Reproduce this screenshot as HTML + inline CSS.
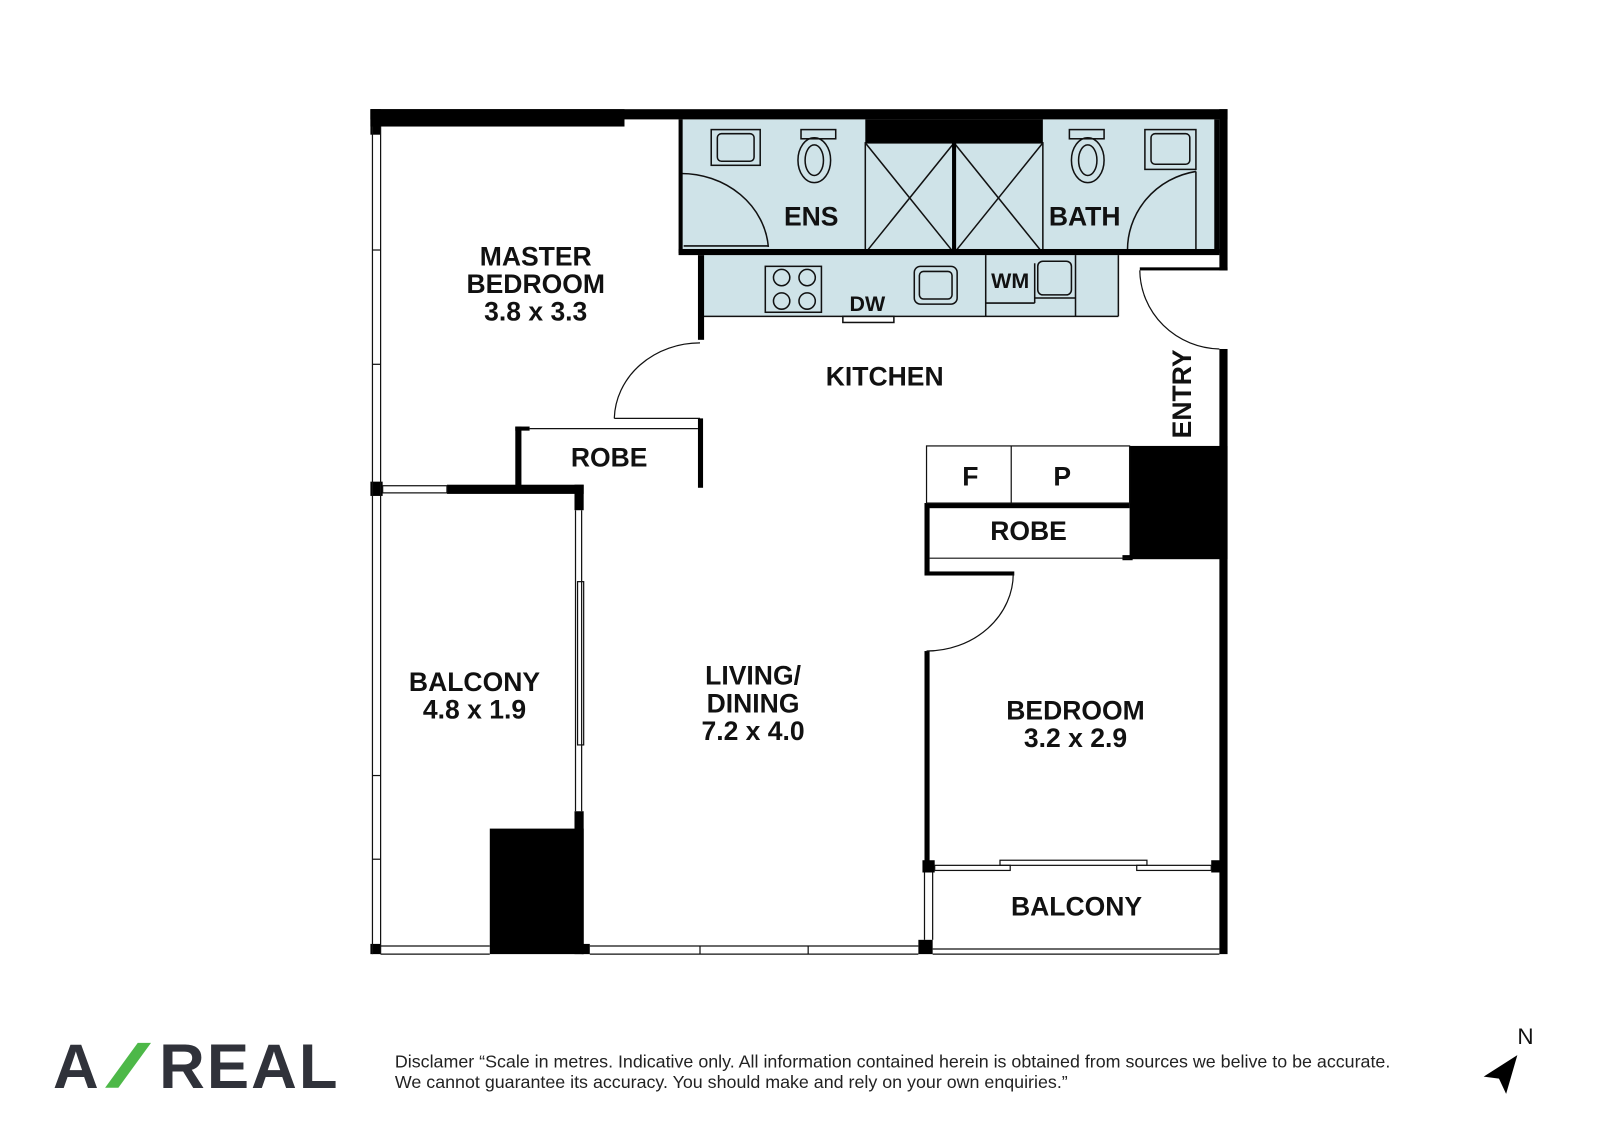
<!DOCTYPE html>
<html><head><meta charset="utf-8"><style>
html,body{margin:0;padding:0;background:#fff;}
svg{display:block;}
.l{font-family:"Liberation Sans",sans-serif;font-weight:bold;fill:#111;text-anchor:middle;}
</style></head><body>
<svg width="1600" height="1123" viewBox="0 0 1568 1100.5" preserveAspectRatio="none" xmlns="http://www.w3.org/2000/svg">
<rect x="667" y="117" width="528" height="131" fill="#cfe3e8"/>
<rect x="688" y="250" width="408" height="60" fill="#cfe3e8"/>
<g fill="none" stroke="#111" stroke-width="1.5">
 <rect x="697" y="127" width="48" height="35"/><rect x="703" y="131" width="36" height="27" rx="4"/>
 <rect x="785" y="127" width="34" height="9"/><ellipse cx="798" cy="157" rx="16" ry="22"/><ellipse cx="798" cy="157" rx="9" ry="15"/>
 <path d="M667 170 A 86 78 0 0 1 753 242"/><line x1="670" y1="241" x2="753" y2="241"/>
 <rect x="848" y="140" width="87" height="108"/><rect x="935" y="140" width="87" height="108"/>
 <line x1="848" y1="140" x2="935" y2="248"/><line x1="935" y1="140" x2="848" y2="248"/>
 <line x1="935" y1="140" x2="1022" y2="248"/><line x1="1022" y1="140" x2="935" y2="248"/>
 <rect x="1048" y="127" width="34" height="9"/><ellipse cx="1066" cy="157" rx="16" ry="22"/><ellipse cx="1066" cy="157" rx="9" ry="15"/>
 <rect x="1122" y="127" width="50" height="39"/><rect x="1128" y="131" width="38" height="30" rx="4"/>
 <path d="M1172 168 A 80 78 0 0 0 1105 248"/><line x1="1172" y1="168" x2="1172" y2="248"/>
 <rect x="750" y="261" width="55" height="45"/>
 <circle cx="766" cy="272" r="8"/><circle cx="791" cy="272" r="8"/><circle cx="766" cy="295" r="8"/><circle cx="791" cy="295" r="8"/>
 <rect x="896" y="261" width="42" height="37" rx="6"/><rect x="901" y="266" width="32" height="27" rx="4"/>
 <line x1="966" y1="250" x2="966" y2="310"/><line x1="966" y1="297" x2="1014" y2="297"/><line x1="1014" y1="258" x2="1014" y2="297"/>
 <rect x="1017" y="256" width="33" height="33" rx="5"/><line x1="1014" y1="292" x2="1054" y2="292"/>
 <line x1="1054" y1="250" x2="1054" y2="310"/><line x1="688" y1="310" x2="1096" y2="310"/><line x1="1096" y1="250" x2="1096" y2="310"/>
 <rect x="826" y="310" width="50" height="6"/>
</g>
<g fill="#000">
 <rect x="363" y="107" width="840" height="10"/>
 <rect x="363" y="107" width="249" height="17"/>
 <rect x="363" y="107" width="10" height="25"/>
 <rect x="848" y="117" width="174" height="23"/>
 <rect x="933" y="140" width="4" height="108"/>
 <rect x="665" y="117" width="4" height="131"/>
 <rect x="665" y="244" width="530" height="6"/>
 <rect x="1190" y="117" width="5" height="131"/>
 <rect x="1195" y="107" width="8" height="158"/>
 <rect x="1117" y="262" width="86" height="3"/>
 <rect x="1195" y="342" width="8" height="593"/>
 <rect x="684" y="250" width="6" height="83"/>
 <rect x="505" y="418" width="6" height="60"/><rect x="505" y="418" width="14" height="4"/>
 <rect x="684" y="410" width="5" height="68"/>
 <rect x="438" y="475" width="134" height="9"/>
 <rect x="363" y="472" width="12" height="14"/>
 <rect x="563" y="475" width="9" height="25"/>
 <rect x="563" y="795" width="9" height="140"/>
 <rect x="480" y="812" width="92" height="123"/>
 <rect x="363" y="925" width="10" height="10"/>
 <rect x="570" y="925" width="8" height="10"/>
 <rect x="900" y="921" width="14" height="14"/>
 <rect x="1107" y="437" width="96" height="111"/>
 <rect x="906" y="493" width="201" height="5"/>
 <rect x="906" y="493" width="5" height="69"/>
 <rect x="906" y="560" width="88" height="4"/>
 <rect x="906" y="638" width="5" height="217"/>
 <rect x="904" y="843" width="12" height="12"/>
 <rect x="1187" y="843" width="10" height="12"/>
 <rect x="1100" y="544" width="10" height="5"/>
</g>
<g fill="none" stroke="#111" stroke-width="1.2">
 <line x1="365" y1="124" x2="365" y2="935"/><line x1="373" y1="124" x2="373" y2="935"/>
 <line x1="365" y1="245" x2="373" y2="245"/><line x1="365" y1="357" x2="373" y2="357"/><line x1="365" y1="760" x2="373" y2="760"/><line x1="365" y1="842" x2="373" y2="842"/>
 <rect x="375" y="476" width="63" height="7"/>
 <line x1="373" y1="927" x2="480" y2="927"/><line x1="373" y1="935" x2="480" y2="935"/>
 <line x1="578" y1="927" x2="900" y2="927"/><line x1="578" y1="935" x2="900" y2="935"/>
 <line x1="686" y1="927" x2="686" y2="935"/><line x1="792" y1="927" x2="792" y2="935"/>
 <line x1="914" y1="930" x2="1195" y2="930"/><line x1="914" y1="935" x2="1195" y2="935"/>
 <line x1="564" y1="500" x2="564" y2="795"/><line x1="570" y1="500" x2="570" y2="795"/>
 <rect x="566" y="570" width="6" height="160"/>
 <line x1="906" y1="855" x2="906" y2="921"/><line x1="914" y1="855" x2="914" y2="921"/>
 <rect x="916" y="848" width="74" height="5"/><rect x="1114" y="848" width="73" height="5"/>
 <rect x="980" y="843" width="144" height="5"/>
 <path d="M686 336 A 84 76 0 0 0 602 410"/><line x1="602" y1="410" x2="686" y2="410"/>
 <line x1="519" y1="420" x2="684" y2="420"/>
 <path d="M1117 265 A 80 78 0 0 0 1195 342"/>
 <path d="M993 562 A 85 76 0 0 1 908 638"/>
 <rect x="908" y="437" width="199" height="56"/><line x1="991" y1="437" x2="991" y2="493"/>
 <line x1="911" y1="547" x2="1107" y2="547"/>
</g>
<g class="l" font-size="26">
 <text x="525" y="260">MASTER</text><text x="525" y="287">BEDROOM</text><text x="525" y="314">3.8 x 3.3</text>
 <text x="795" y="221">ENS</text><text x="1063" y="221">BATH</text>
 <text x="850" y="305" font-size="21">DW</text><text x="990" y="282" font-size="21">WM</text>
 <text x="867" y="378">KITCHEN</text>
 <text x="597" y="457">ROBE</text>
 <text x="951" y="476">F</text><text x="1041" y="476">P</text>
 <text x="1008" y="529">ROBE</text>
 <text transform="translate(1167 386) rotate(-90)">ENTRY</text>
 <text x="465" y="677">BALCONY</text><text x="465" y="704">4.8 x 1.9</text>
 <text x="738" y="671">LIVING/</text><text x="738" y="698">DINING</text><text x="738" y="725">7.2 x 4.0</text>
 <text x="1054" y="705">BEDROOM</text><text x="1054" y="732">3.2 x 2.9</text>
 <text x="1055" y="897">BALCONY</text>
</g>
<g font-family="Liberation Sans, sans-serif" font-weight="bold" fill="#30323a" font-size="62">
 <text x="52" y="1066">A</text>
 <text x="156" y="1066" letter-spacing="2">REAL</text>
</g>
<polygon points="103,1066 116,1066 148,1022 135,1022" fill="#4db848"/>
<g font-family="Liberation Sans, sans-serif" font-size="17.5" fill="#222">
 <text x="387" y="1046">Disclamer “Scale in metres. Indicative only. All information contained herein is obtained from sources we belive to be accurate.</text>
 <text x="387" y="1066">We cannot guarantee its accuracy. You should make and rely on your own enquiries.”</text>
</g>
<text x="1487" y="1023" font-family="Liberation Sans, sans-serif" font-size="22" fill="#111">N</text>
<polygon points="1487,1034 1454,1055 1469,1057 1476,1072" fill="#000"/>
</svg>
</body></html>
